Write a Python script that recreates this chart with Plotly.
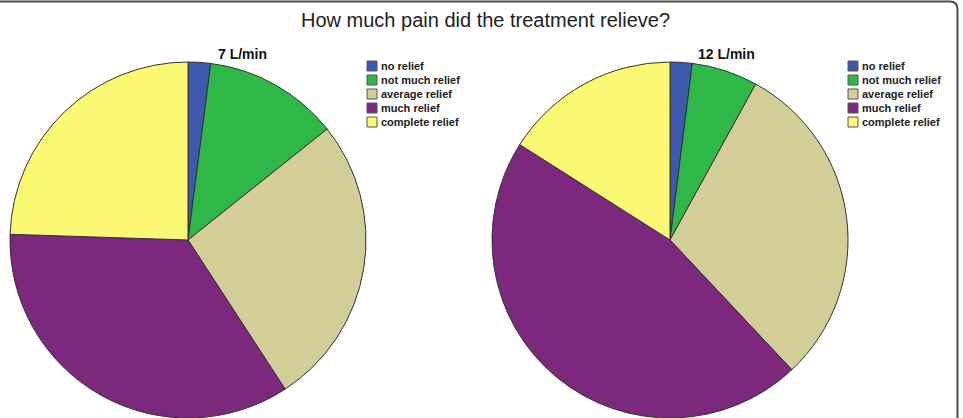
import plotly.graph_objects as go

W, H = 963, 418

title_text = "How much pain did the treatment relieve?"
categories = ["no relief", "not much relief", "average relief", "much relief", "complete relief"]
colors = ["#3E58AC", "#2EB848", "#D3CE97", "#7C287D", "#FBF873"]
panel_titles = ["7 L/min", "12 L/min"]
counts_7 = [1, 6, 13, 17, 12]
counts_12 = [1, 3, 15, 23, 8]


def px(x):
    return x / W


def py(y):
    return 1 - y / H


fig = go.Figure()

pies = [
    (counts_7, (10, 366), (62, 418)),
    (counts_12, (492, 848), (62, 418)),
]
for vals, (x0, x1), (y0, y1) in pies:
    fig.add_trace(go.Pie(
        labels=categories,
        values=vals,
        sort=False,
        direction="clockwise",
        rotation=0,
        marker=dict(colors=colors, line=dict(color="#333333", width=1)),
        textinfo="none",
        hoverinfo="label+percent",
        showlegend=False,
        domain=dict(x=[px(x0), px(x1)], y=[py(y1), py(y0)]),
    ))

shapes = []
annotations = []

# main title
annotations.append(dict(
    text=title_text, x=px(486), y=py(20), xref="paper", yref="paper",
    showarrow=False, xanchor="center", yanchor="middle",
    font=dict(family="Liberation Sans, Arial", size=20, color="#222222"),
))

# panel titles
for t, cx in zip(panel_titles, [243, 726]):
    annotations.append(dict(
        text="<b>" + t + "</b>", x=px(cx), y=py(54), xref="paper", yref="paper",
        showarrow=False, xanchor="center", yanchor="middle",
        font=dict(family="Liberation Sans, Arial", size=14, color="#111111"),
    ))

# legends
for lx in [367, 848]:
    for i, (cat, col) in enumerate(zip(categories, colors)):
        yc = 66 + i * 14
        shapes.append(dict(
            type="rect", xref="paper", yref="paper",
            x0=px(lx), x1=px(lx + 10), y0=py(yc + 5), y1=py(yc - 5),
            fillcolor=col, line=dict(color="#555555", width=1),
        ))
        annotations.append(dict(
            text="<b>" + cat + "</b>", x=px(lx + 12), y=py(yc), xref="paper", yref="paper",
            showarrow=False, xanchor="left", yanchor="middle",
            font=dict(family="Liberation Sans, Arial", size=11, color="#222222"),
        ))

# outer rounded border (top and right edges visible)
shapes.append(dict(
    type="path", xref="paper", yref="paper",
    path=f"M 0,{py(1.5)} L {px(950)},{py(1.5)} Q {px(957.5)},{py(1.5)} {px(957.5)},{py(9)} L {px(957.5)},{py(420)}",
    line=dict(color="#4a4a4a", width=2),
))

fig.update_layout(
    width=W, height=H,
    margin=dict(l=0, r=0, t=0, b=0),
    paper_bgcolor="white",
    plot_bgcolor="white",
    shapes=shapes,
    annotations=annotations,
)

fig.write_html("out.html")
